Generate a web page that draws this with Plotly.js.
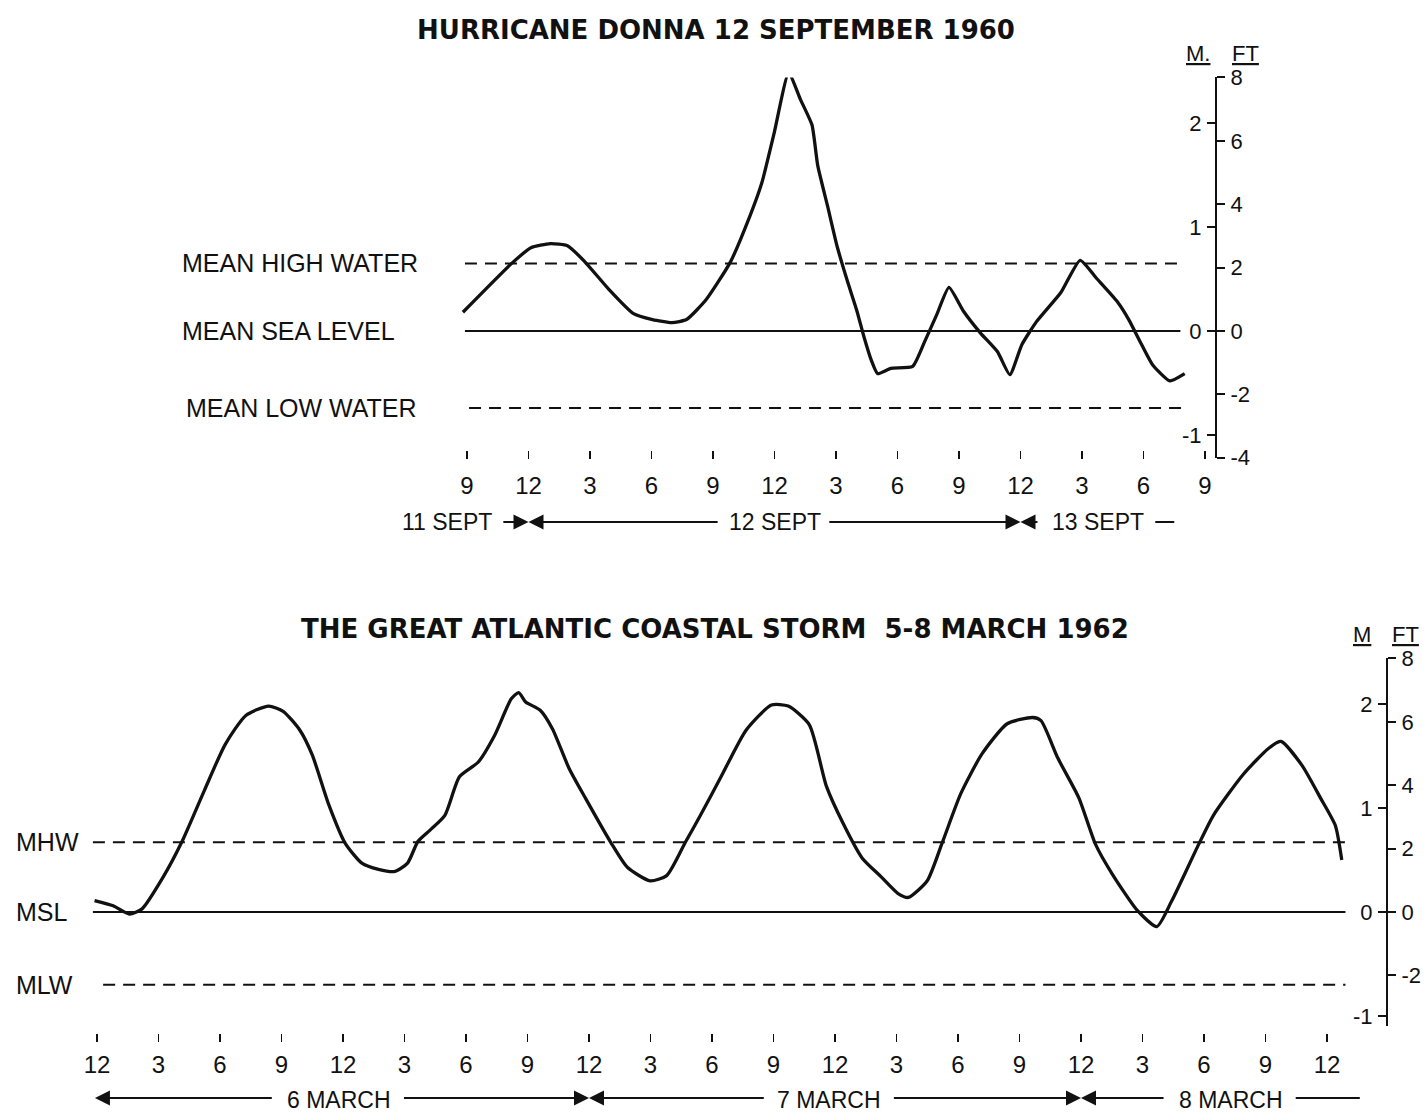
<!DOCTYPE html>
<html>
<head>
<meta charset="utf-8">
<script src="https://cdn.plot.ly/plotly-3.0.1.min.js"></script>
<style>html,body{margin:0;padding:0;background:#fff;}#chart{width:1425px;height:1114px;}</style>
</head>
<body>
<div id="chart"></div>
<script>
// ---------------- DATA ----------------
// Hurricane Donna: hours counted from 00:00 on 11 September 1960; water level in metres above mean sea level
const donnaHours = [20.80, 23.18, 24.12, 25.07, 25.90, 26.73, 27.92, 29.10, 30.05, 31.00,
  31.71, 32.66, 33.84, 34.79, 35.39, 35.98, 36.69, 37.28, 37.83, 38.11,
  38.59, 39.06, 39.54, 40.01, 40.37, 40.72, 41.03, 41.67, 42.74, 43.33,
  43.92, 44.51, 45.22, 46.05, 46.88, 47.48, 48.07, 48.78, 49.97, 50.91,
  51.74, 52.69, 53.28, 53.88, 54.46, 55.29, 56.01];
const donnaLevel = [0.18, 0.65, 0.80, 0.84, 0.82, 0.67, 0.40, 0.17, 0.11, 0.08,
  0.11, 0.30, 0.66, 1.10, 1.43, 1.90, 2.48, 2.22, 1.98, 1.59,
  1.20, 0.81, 0.49, 0.20, -0.06, -0.28, -0.41, -0.36, -0.34, -0.10,
  0.16, 0.42, 0.19, -0.02, -0.20, -0.42, -0.13, 0.09, 0.37, 0.68,
  0.50, 0.29, 0.11, -0.12, -0.33, -0.48, -0.41];
const donnaTickHours = [21, 24, 27, 30, 33, 36, 39, 42, 45, 48, 51, 54, 57];
const donnaTickText = ['9', '12', '3', '6', '9', '12', '3', '6', '9', '12', '3', '6', '9'];
const donnaDatumNames = ['MEAN HIGH WATER', 'MEAN SEA LEVEL', 'MEAN LOW WATER'];
const donnaDatumLevel = [0.65, 0, -0.74];
const donnaDatumStart = [20.9, 20.9, 21.1];
const donnaDatumEnd = [55.8, 55.8, 56.2];
const donnaDayNames = ['11 SEPT', '12 SEPT', '13 SEPT'];
const donnaDayCentres = [20.0, 36.0, 51.8];
const donnaDayBounds = [24, 48];

// Great Atlantic Coastal Storm: hours counted from 00:00 on 6 March 1962
const stormHours = [-0.12, 0.79, 1.58, 2.20, 3.21, 4.13, 5.24, 6.25, 7.26, 8.37,
  9.08, 9.89, 10.50, 11.31, 12.11, 12.92, 13.73, 14.54, 15.15, 15.66,
  16.26, 16.97, 17.68, 18.59, 19.40, 20.21, 20.57, 20.91, 21.62, 22.22,
  23.03, 23.84, 25.06, 25.87, 26.98, 27.79, 28.70, 29.41, 30.44, 31.67,
  32.90, 33.72, 34.75, 35.58, 36.40, 37.32, 38.24, 39.06, 39.58, 40.50,
  41.22, 42.14, 43.17, 44.40, 45.64, 46.05, 46.87, 47.89, 48.71, 49.54,
  50.77, 51.70, 52.41, 53.74, 54.46, 55.90, 57.13, 57.75, 58.78, 59.70,
  60.41, 60.72];
const stormLevel = [0.11, 0.06, -0.02, 0.03, 0.33, 0.67, 1.17, 1.61, 1.89, 1.98,
  1.93, 1.75, 1.51, 1.03, 0.66, 0.47, 0.41, 0.39, 0.47, 0.68,
  0.79, 0.93, 1.30, 1.44, 1.70, 2.05, 2.11, 2.02, 1.94, 1.76,
  1.38, 1.09, 0.67, 0.43, 0.30, 0.35, 0.67, 0.92, 1.30, 1.75,
  1.99, 1.98, 1.80, 1.21, 0.85, 0.52, 0.34, 0.18, 0.14, 0.30,
  0.66, 1.14, 1.52, 1.81, 1.87, 1.84, 1.48, 1.10, 0.65, 0.36,
  0.01, -0.14, 0.10, 0.65, 0.93, 1.32, 1.57, 1.64, 1.41, 1.09,
  0.83, 0.50];
const stormTickHours = [0, 3, 6, 9, 12, 15, 18, 21, 24, 27, 30, 33, 36, 39, 42, 45, 48, 51, 54, 57, 60];
const stormTickText = ['12', '3', '6', '9', '12', '3', '6', '9', '12', '3', '6', '9', '12', '3', '6', '9', '12', '3', '6', '9', '12'];
const stormDatumNames = ['MHW', 'MSL', 'MLW'];
const stormDatumLevel = [0.67, 0, -0.70];
const stormDatumStart = [-0.2, -0.2, 0.3];
const stormDatumEnd = [61.1, 60.9, 60.9];
const stormDayNames = ['6 MARCH', '7 MARCH', '8 MARCH'];
const stormDayCentres = [11.8, 35.7, 55.3];
const stormDayBounds = [0, 24, 48];

// Scales
const meterTicksTop = [-1, 0, 1, 2];
const meterTicksBottom = [-1, 0, 1, 2];
const meterTickText = ['-1', '0', '1', '2'];
const feetTicksTop = [-4, -2, 0, 2, 4, 6, 8];
const feetTickTextTop = ['-4', '-2', '0', '2', '4', '6', '8'];
const feetTicksBottom = [-2, 0, 2, 4, 6, 8];
const feetTickTextBottom = ['-2', '0', '2', '4', '6', '8'];
const FT_PER_M = 3.28084;

// ---------------- LAYOUT GEOMETRY ----------------
const W = 1425, H = 1114;
const PX_PER_HOUR = 20.5, PX_PER_M = 104;
const fx = px => px / W;
const fy = py => 1 - py / H;
// top panel
const T = {left: 440, right: 1240, axisX: 1216, zeroY: 331, refPx: 467, refHour: 21, xAxisY: 450, tickLen: 8, standoff: 6, dayRowY: 522};
const hTop = px => T.refHour + (px - T.refPx) / PX_PER_HOUR;
const topYMax = 8 / FT_PER_M, topYMin = -4 / FT_PER_M;
// bottom panel
const B = {left: 70, right: 1400, axisX: 1387, zeroY: 912, refPx: 97, refHour: 0, xAxisY: 1033, tickLen: 8, standoff: 2, dayRowY: 1098};
const hBot = px => B.refHour + (px - B.refPx) / PX_PER_HOUR;
const botYMax = 8 / FT_PER_M, botYMin = -1.1;

const BLACK = '#111';
const SANS = 'Liberation Sans, Arial, sans-serif';
const BOLD = 'DejaVu Sans, Liberation Sans, Arial, sans-serif';
const tickFont = {family: SANS, size: 24, color: BLACK};
const sideFont = {family: SANS, size: 22, color: BLACK};
const labelFont = {family: SANS, size: 25, color: BLACK};
const dayFont = {family: SANS, size: 23, color: BLACK};

// ---------------- TRACES ----------------
const traces = [];
function datumTraces(names, levels, starts, ends, xa, ya) {
  names.forEach((n, i) => {
    traces.push({
      x: [starts[i], ends[i]], y: [levels[i], levels[i]], xaxis: xa, yaxis: ya,
      mode: 'lines', hoverinfo: 'skip', name: n,
      line: {color: BLACK, width: 2, dash: levels[i] === 0 ? 'solid' : '12px,8px'}
    });
  });
}
datumTraces(donnaDatumNames, donnaDatumLevel, donnaDatumStart, donnaDatumEnd, 'x', 'y');
datumTraces(stormDatumNames, stormDatumLevel, stormDatumStart, stormDatumEnd, 'x2', 'y3');

traces.push({x: donnaHours, y: donnaLevel, xaxis: 'x', yaxis: 'y', mode: 'lines',
  line: {color: BLACK, width: 3.3, shape: 'spline', smoothing: 0.5}, name: 'Hurricane Donna'});
traces.push({x: stormHours, y: stormLevel, xaxis: 'x2', yaxis: 'y3', mode: 'lines',
  line: {color: BLACK, width: 3.3, shape: 'spline', smoothing: 0.6}, name: 'March 1962 storm'});
// carriers for the feet axes
traces.push({x: [null], y: [null], xaxis: 'x', yaxis: 'y2', mode: 'lines', hoverinfo: 'skip'});
traces.push({x: [null], y: [null], xaxis: 'x2', yaxis: 'y4', mode: 'lines', hoverinfo: 'skip'});

// ---------------- ANNOTATIONS ----------------
const annotations = [];
annotations.push({text: '<b>THE GREAT ATLANTIC COASTAL STORM  5-8 MARCH 1962</b>', xref: 'paper', yref: 'paper',
  x: fx(715), y: fy(629), xanchor: 'center', yanchor: 'middle', showarrow: false,
  font: {family: BOLD, size: 26, color: BLACK}});
// unit headers
[[1198, 53, 'M.'], [1245, 53, 'FT'], [1362, 634, 'M'], [1405, 634, 'FT']].forEach(u => {
  annotations.push({text: '<u>' + u[2] + '</u>', xref: 'paper', yref: 'paper', x: fx(u[0]), y: fy(u[1]),
    xanchor: 'center', yanchor: 'middle', showarrow: false, font: {family: SANS, size: 22, color: BLACK}});
});
// datum labels
const donnaLabelX = [180, 180, 184];
donnaDatumNames.forEach((n, i) => annotations.push({text: n, xref: 'paper', yref: 'y', x: fx(donnaLabelX[i]),
  y: donnaDatumLevel[i], xanchor: 'left', yanchor: 'middle', showarrow: false, font: labelFont}));
stormDatumNames.forEach((n, i) => annotations.push({text: n, xref: 'paper', yref: 'y3', x: fx(14),
  y: stormDatumLevel[i], xanchor: 'left', yanchor: 'middle', showarrow: false, font: labelFont}));
// day labels
donnaDayNames.forEach((n, i) => annotations.push({text: n, xref: 'x', yref: 'paper', x: donnaDayCentres[i],
  y: fy(T.dayRowY), xanchor: 'center', yanchor: 'middle', showarrow: false, font: dayFont}));
stormDayNames.forEach((n, i) => annotations.push({text: n, xref: 'x2', yref: 'paper', x: stormDayCentres[i],
  y: fy(B.dayRowY + 2), xanchor: 'center', yanchor: 'middle', showarrow: false, font: dayFont}));
// day span arrows: [tail hour, head hour, arrowhead?]
const donnaSpans = [[22.7, donnaDayBounds[0], 1], [33.3, donnaDayBounds[0], 1], [38.6, donnaDayBounds[1], 1],
  [48.9, donnaDayBounds[1], 1], [54.5, 55.5, 0]];
const stormSpans = [[8.6, stormDayBounds[0] - 0.1, 1], [14.9, stormDayBounds[1], 1], [32.6, stormDayBounds[1], 1],
  [38.8, stormDayBounds[2], 1], [52.1, stormDayBounds[2], 1], [58.4, 61.6, 0]];
function spanArrows(spans, xa, rowY) {
  spans.forEach(s => annotations.push({text: '', xref: xa, yref: 'paper', x: s[1], y: fy(rowY),
    axref: xa, ax: s[0], ayref: 'pixel', ay: 0, showarrow: true, arrowhead: s[2] ? 2 : 0,
    arrowsize: 1.5, arrowwidth: 2, arrowcolor: BLACK, standoff: 0, startstandoff: 0}));
}
spanArrows(donnaSpans, 'x', T.dayRowY);
spanArrows(stormSpans, 'x2', B.dayRowY);

// ---------------- AXES ----------------
const xCommon = {showline: false, showgrid: false, zeroline: false, ticks: 'outside',
  tickwidth: 1.5, tickcolor: BLACK, tickfont: tickFont, tickmode: 'array', fixedrange: true, ticklabeloverflow: 'allow'};
const mCommon = {side: 'left', anchor: 'free', showline: true, linewidth: 2, linecolor: BLACK, ticks: 'outside', ticklen: 8,
  tickwidth: 2, tickcolor: BLACK, showgrid: false, zeroline: false,
  tickfont: sideFont, tickmode: 'array', fixedrange: true, ticklabelstandoff: 1};
const fCommon = {side: 'right', anchor: 'free', showline: false, ticks: 'outside', ticklen: 8, tickwidth: 2, tickcolor: BLACK,
  showgrid: false, zeroline: false, tickfont: sideFont, tickmode: 'array', fixedrange: true, ticklabelstandoff: 1};

const layout = {
  width: W, height: H, autosize: false, showlegend: false,
  margin: {l: 0, r: 0, t: 0, b: 0, pad: 0},
  paper_bgcolor: '#fff', plot_bgcolor: 'rgba(0,0,0,0)',
  title: {text: '<b>HURRICANE DONNA 12 SEPTEMBER 1960</b>', x: fx(716), xanchor: 'center', xref: 'paper',
    y: fy(30), yanchor: 'middle', yref: 'paper', font: {family: BOLD, size: 26, color: BLACK}},
  xaxis: Object.assign({}, xCommon, {domain: [fx(T.left), fx(T.right)], range: [hTop(T.left), hTop(T.right)],
    anchor: 'free', position: fy(T.xAxisY), ticklen: T.tickLen, ticklabelstandoff: T.standoff,
    tickvals: donnaTickHours, ticktext: donnaTickText}),
  yaxis: Object.assign({}, mCommon, {domain: [fy(T.zeroY - topYMin * PX_PER_M), fy(T.zeroY - topYMax * PX_PER_M)],
    range: [topYMin, topYMax], position: fx(T.axisX), tickvals: meterTicksTop, ticktext: meterTickText}),
  yaxis2: Object.assign({}, fCommon, {overlaying: 'y', position: fx(T.axisX),
    range: [topYMin * FT_PER_M, topYMax * FT_PER_M], tickvals: feetTicksTop, ticktext: feetTickTextTop}),
  xaxis2: Object.assign({}, xCommon, {domain: [fx(B.left), fx(B.right)], range: [hBot(B.left), hBot(B.right)],
    anchor: 'free', position: fy(B.xAxisY), ticklen: B.tickLen, ticklabelstandoff: B.standoff,
    tickvals: stormTickHours, ticktext: stormTickText}),
  yaxis3: Object.assign({}, mCommon, {domain: [fy(B.zeroY - botYMin * PX_PER_M), fy(B.zeroY - botYMax * PX_PER_M)],
    range: [botYMin, botYMax], position: fx(B.axisX), tickvals: meterTicksBottom, ticktext: meterTickText}),
  yaxis4: Object.assign({}, fCommon, {overlaying: 'y3', position: fx(B.axisX),
    range: [botYMin * FT_PER_M, botYMax * FT_PER_M], tickvals: feetTicksBottom, ticktext: feetTickTextBottom}),
  annotations: annotations
};

Plotly.newPlot('chart', traces, layout, {staticPlot: true, displayModeBar: false});
</script>
</body>
</html>
